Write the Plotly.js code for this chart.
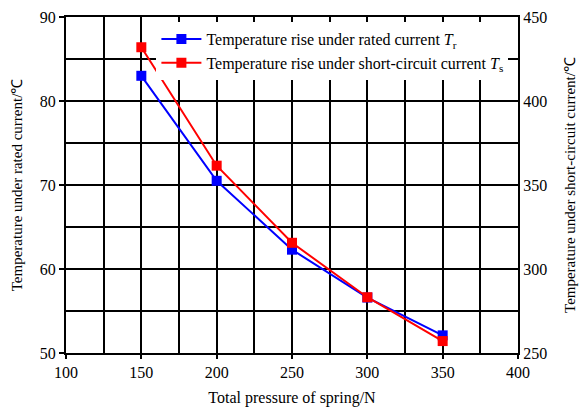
<!DOCTYPE html>
<html>
<head>
<meta charset="utf-8">
<script src="https://cdn.plot.ly/plotly-3.0.1.min.js"></script>
<style>html,body{margin:0;padding:0;background:#fff;}</style>
</head>
<body>
<div id="chart" style="width:582px;height:407px;"></div>
<script>
var pressure = [150, 200, 250, 300, 350];
var ratedTemp = [83.0, 70.5, 62.3, 56.6, 52.1];
var shortTemp = [432, 361.5, 315.6, 283.2, 257.1];
var xTicks = [100, 150, 200, 250, 300, 350, 400];
var yLeftTicks = [50, 60, 70, 80, 90];
var yRightTicks = [250, 300, 350, 400, 450];

var font = '"Liberation Serif", "Times New Roman", Times, serif';

var traces = [
  {
    x: pressure, y: ratedTemp, type: 'scatter', mode: 'lines+markers',
    name: 'Temperature rise under rated current <i>T</i><sub>r</sub>',
    line: {color: '#0000ff', width: 2},
    marker: {symbol: 'square', size: 10, color: '#0000ff'},
    yaxis: 'y'
  },
  {
    x: pressure, y: shortTemp, type: 'scatter', mode: 'lines+markers',
    name: 'Temperature rise under short-circuit current <i>T</i><sub>s</sub>',
    line: {color: '#ff0000', width: 2},
    marker: {symbol: 'square', size: 10, color: '#ff0000'},
    yaxis: 'y2'
  }
];

var layout = {
  width: 582, height: 407,
  margin: {l: 66, r: 64, t: 17, b: 54},
  paper_bgcolor: '#fff', plot_bgcolor: '#fff',
  font: {family: font, size: 16, color: '#000'},
  showlegend: true,
  legend: {
    x: 0.2, y: 0.985, xanchor: 'left', yanchor: 'top',
    bgcolor: '#fff', borderwidth: 0,
    font: {family: font, size: 16, color: '#000'},
    itemwidth: 40,
    tracegroupgap: 0
  },
  xaxis: {
    range: [100, 400], tickvals: xTicks, ticktext: xTicks.map(String),
    showgrid: true, gridcolor: '#000', gridwidth: 2,
    minor: {dtick: 25, tick0: 100, showgrid: true, gridcolor: '#000', gridwidth: 2},
    showline: true, linecolor: '#000', linewidth: 2, mirror: true,
    ticks: 'outside', ticklen: 4, tickcolor: '#000', tickwidth: 2,
    zeroline: false,
    tickfont: {family: font, size: 16},
    title: {text: 'Total pressure of spring/N', font: {family: font, size: 16}, standoff: 14}
  },
  yaxis: {
    range: [50, 90], tickvals: yLeftTicks, ticktext: yLeftTicks.map(String),
    showgrid: true, gridcolor: '#000', gridwidth: 2,
    minor: {dtick: 5, tick0: 50, showgrid: true, gridcolor: '#000', gridwidth: 2},
    showline: true, linecolor: '#000', linewidth: 2,
    ticks: 'outside', ticklen: 5, tickcolor: '#000', tickwidth: 2,
    zeroline: false,
    tickfont: {family: font, size: 16},
    title: {text: 'Temperature under rated current/℃', font: {family: font, size: 15}, standoff: 14}
  },
  yaxis2: {
    range: [250, 450], tickvals: yRightTicks, ticktext: yRightTicks.map(String),
    overlaying: 'y', side: 'right', showgrid: false,
    showline: true, linecolor: '#000', linewidth: 2,
    ticks: '', zeroline: false,
    tickfont: {family: font, size: 16},
    title: {text: 'Temperature under short-circuit current/℃', font: {family: font, size: 15}, standoff: 18}
  }
};

Plotly.newPlot('chart', traces, layout, {displayModeBar: false, staticPlot: true});
</script>
</body>
</html>
